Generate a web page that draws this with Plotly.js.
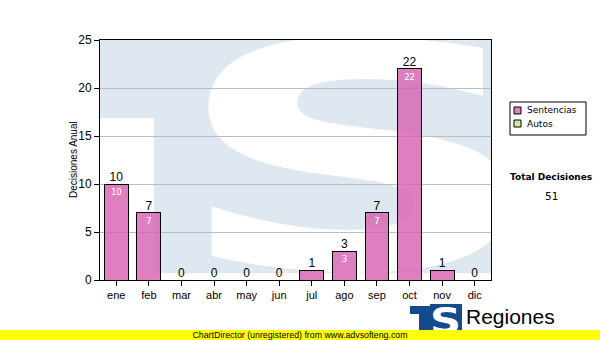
<!DOCTYPE html>
<html>
<head>
<meta charset="utf-8">
<script src="https://cdn.plot.ly/plotly-3.0.1.min.js"></script>
<style>html,body{margin:0;padding:0;background:#fff;}#chart{width:600px;height:340px;}</style>
</head>
<body>
<div id="chart"></div>
<script>
var months = ["ene","feb","mar","abr","may","jun","jul","ago","sep","oct","nov","dic"];
var sentencias = [10,7,0,0,0,0,1,3,7,22,1,0];
var autos = [0,0,0,0,0,0,0,0,0,0,0,0];
var seriesNames = ["Sentencias","Autos"];
var seriesColors = ["rgba(214,96,176,0.8)","#d4e8a4"];
var totalLabel = "Total Decisiones";
var yTitle = "Decisiones Anual";

var total = 0;
for (var i = 0; i < sentencias.length; i++) total += sentencias[i] + autos[i];

var insideX = [], insideY = [], insideT = [];
for (var j = 0; j < sentencias.length; j++) {
  if (sentencias[j] >= 2) { insideX.push(months[j]); insideY.push(sentencias[j]); insideT.push(String(sentencias[j])); }
}

var wm = '<svg xmlns="http://www.w3.org/2000/svg" width="391" height="240" viewBox="0 0 391 240">' +
  '<rect x="0" y="0" width="116" height="78" fill="#dfe8f1"/>' +
  '<rect x="54" y="0" width="62" height="233" fill="#dfe8f1"/>' +
  '<rect x="100" y="0" width="291" height="233" fill="#dfe8f1"/>' +
  '<text x="71" y="228" font-family="DejaVu Sans" font-weight="bold" font-size="312" fill="#ffffff" textLength="375" lengthAdjust="spacingAndGlyphs">S</text>' +
  '</svg>';
var logo = '<svg xmlns="http://www.w3.org/2000/svg" width="52" height="30" viewBox="0 0 52 30">' +
  '<rect x="0" y="2" width="20" height="8" fill="#144b8c"/>' +
  '<rect x="9" y="2" width="11" height="28" fill="#144b8c"/>' +
  '<rect x="20" y="0" width="32" height="30" fill="#144b8c"/>' +
  '<text x="20" y="29" font-family="DejaVu Sans" font-weight="bold" font-size="36" fill="#ffffff" textLength="31" lengthAdjust="spacingAndGlyphs">S</text>' +
  '</svg>';
function svgUri(s){ return 'data:image/svg+xml;charset=utf-8,' + encodeURIComponent(s); }

var traces = [
  {
    type: 'bar', name: seriesNames[0], x: months, y: sentencias, width: 0.73,
    marker: {color: seriesColors[0], line: {color: '#000000', width: 1}},
    hoverinfo: 'none', showlegend: false
  },
  {
    type: 'bar', name: seriesNames[1], x: months, y: autos, width: 0.73,
    marker: {color: seriesColors[1], line: {color: '#000000', width: 1}},
    hoverinfo: 'none', showlegend: false
  },
  {
    type: 'scatter', mode: 'text', x: months, y: sentencias,
    text: sentencias.map(String), textposition: 'top center',
    textfont: {family: 'Liberation Sans, Arial, sans-serif', size: 12, color: '#000000'},
    showlegend: false, hoverinfo: 'none', cliponaxis: false
  },
  {
    type: 'scatter', mode: 'markers+text', x: insideX, y: insideY,
    marker: {size: 6, color: 'rgba(0,0,0,0)'},
    text: insideT, textposition: 'bottom center',
    textfont: {family: 'DejaVu Sans, Verdana, sans-serif', size: 8.5, color: '#ffffff'},
    showlegend: false, hoverinfo: 'none', cliponaxis: false
  }
];

function px(x){ return (x - 100) / 391; }
function py(y){ return (280 - y) / 240; }

var shapes = [
  {type: 'rect', xref: 'paper', yref: 'paper', x0: px(510), x1: px(586), y0: py(135), y1: py(102),
   line: {color: '#000000', width: 1}, fillcolor: '#ffffff'},
  {type: 'rect', xref: 'paper', yref: 'paper', x0: px(514), x1: px(521), y0: py(114), y1: py(107),
   line: {color: '#000000', width: 1}, fillcolor: seriesColors[0]},
  {type: 'rect', xref: 'paper', yref: 'paper', x0: px(514), x1: px(521), y0: py(127), y1: py(120),
   line: {color: '#000000', width: 1}, fillcolor: seriesColors[1]}
];

var layout = {
  width: 600, height: 340,
  margin: {l: 100, r: 109, t: 40, b: 60, pad: 0},
  paper_bgcolor: '#ffffff',
  plot_bgcolor: 'rgba(0,0,0,0)',
  barmode: 'stack',
  showlegend: false,
  font: {family: 'Liberation Sans, Arial, sans-serif', size: 11, color: '#000000'},
  xaxis: {
    type: 'category', range: [-0.5, 11.5], fixedrange: true,
    showline: true, linecolor: '#000000', linewidth: 1, mirror: true,
    ticks: 'outside', ticklen: 5, tickcolor: '#000000',
    showgrid: false, zeroline: false,
    tickfont: {family: 'Liberation Sans, Arial, sans-serif', size: 11, color: '#000000'}
  },
  yaxis: {
    range: [0, 25], dtick: 5, fixedrange: true,
    showline: true, linecolor: '#000000', linewidth: 1, mirror: true,
    ticks: 'outside', ticklen: 5, tickcolor: '#000000',
    showgrid: true, gridcolor: '#bdbdbd', gridwidth: 1, zeroline: false,
    tickfont: {family: 'Liberation Sans, Arial, sans-serif', size: 12, color: '#000000'}
  },
  shapes: shapes,
  images: [
    {source: svgUri(wm), xref: 'paper', yref: 'paper', x: 0, y: 1, sizex: 1, sizey: 1,
     xanchor: 'left', yanchor: 'top', sizing: 'stretch', layer: 'below'},
    {source: svgUri(logo), xref: 'paper', yref: 'paper', x: px(410), y: py(304), sizex: 52/391, sizey: 30/240,
     xanchor: 'left', yanchor: 'top', sizing: 'stretch', layer: 'above'}
  ],
  annotations: [
    {text: yTitle, xref: 'paper', yref: 'paper', x: px(73), y: py(160), textangle: -90,
     xanchor: 'center', yanchor: 'middle', showarrow: false,
     font: {family: 'Liberation Sans, Arial, sans-serif', size: 10, color: '#000000'}},
    {text: seriesNames[0], xref: 'paper', yref: 'paper', x: px(525), y: py(110.5),
     xanchor: 'left', yanchor: 'middle', showarrow: false,
     font: {family: 'DejaVu Sans, Verdana, sans-serif', size: 9, color: '#000000'}},
    {text: seriesNames[1], xref: 'paper', yref: 'paper', x: px(525), y: py(123.5),
     xanchor: 'left', yanchor: 'middle', showarrow: false,
     font: {family: 'DejaVu Sans, Verdana, sans-serif', size: 9, color: '#000000'}},
    {text: '<b>' + totalLabel + '</b>', xref: 'paper', yref: 'paper', x: px(551), y: py(177),
     xanchor: 'center', yanchor: 'middle', showarrow: false,
     font: {family: 'DejaVu Sans, Verdana, sans-serif', size: 9, color: '#000000'}},
    {text: String(total), xref: 'paper', yref: 'paper', x: px(551), y: py(196),
     xanchor: 'center', yanchor: 'middle', showarrow: false,
     font: {family: 'DejaVu Sans, Verdana, sans-serif', size: 10.5, color: '#000000'}},
    {text: 'Regiones', xref: 'paper', yref: 'paper', x: px(464), y: py(316),
     xanchor: 'left', yanchor: 'middle', showarrow: false,
     font: {family: 'Liberation Sans, Arial, sans-serif', size: 21, color: '#000000'}},
    {text: 'Tribunal Supremo de Justicia', xref: 'paper', yref: 'paper', x: px(464), y: py(334),
     xanchor: 'left', yanchor: 'middle', showarrow: false,
     font: {family: 'Liberation Sans, Arial, sans-serif', size: 11, color: '#000000'}},
    {text: 'ChartDirector (unregistered) from www.advsofteng.com', xref: 'paper', yref: 'paper',
     x: px(300), y: py(335), xanchor: 'center', yanchor: 'middle', showarrow: false,
     width: 600, height: 10, bgcolor: '#ffff00', borderpad: 0, borderwidth: 0,
     font: {family: 'Liberation Sans, Arial, sans-serif', size: 8.8, color: '#000000'}}
  ]
};

Plotly.newPlot('chart', traces, layout, {displayModeBar: false, staticPlot: true});
</script>
</body>
</html>
